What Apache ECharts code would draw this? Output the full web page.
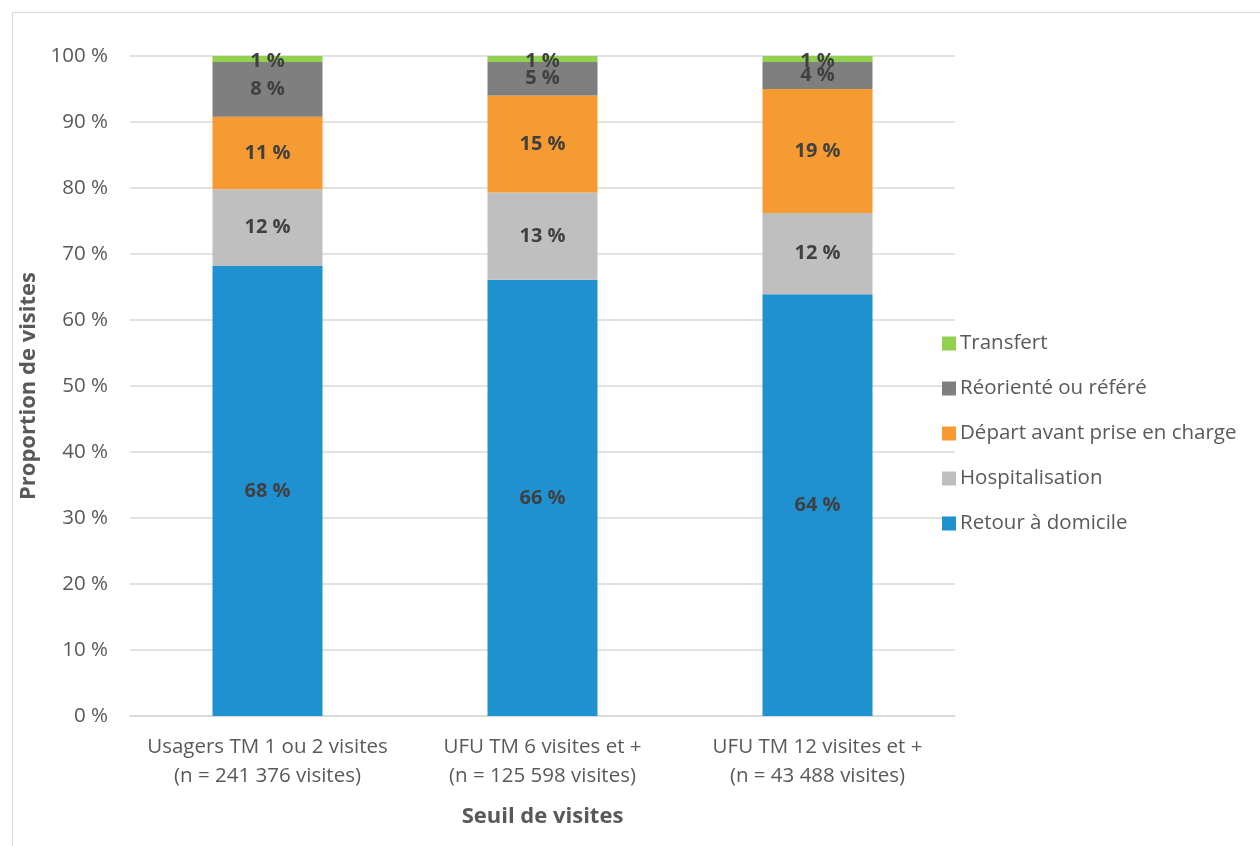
<!DOCTYPE html>
<html><head><meta charset="utf-8">
<script src="https://cdn.jsdelivr.net/npm/echarts@6/dist/echarts.min.js"></script>
<style>html,body{margin:0;padding:0;background:#fff}#c{width:1260px;height:846px}</style>
</head><body><div id="c"></div>
<script>
const categories = ['Usagers TM 1 ou 2 visites\n(n = 241 376 visites)', 'UFU TM 6 visites et +\n(n = 125 598 visites)', 'UFU TM 12 visites et +\n(n = 43 488 visites)'];
const retour = [68.2, 66.1, 63.9];
const hospitalisation = [11.6, 13.2, 12.3];
const depart = [11.0, 14.7, 18.8];
const reoriente = [8.3, 5.1, 4.1];
const transfert = [0.9, 0.9, 0.9];
const yTicks = [0, 10, 20, 30, 40, 50, 60, 70, 80, 90, 100];

const FONT = '"Open Sans", sans-serif';
const names = ['Retour à domicile', 'Hospitalisation', 'Départ avant prise en charge', 'Réorienté ou référé', 'Transfert'];
const colors = ['#1f91d0', '#bfbfbf', '#f59b31', '#7f7f7f', '#92d050'];
const datas = [retour, hospitalisation, depart, reoriente, transfert];

const chart = echarts.init(document.getElementById('c'));
chart.setOption({
  animation: false,
  textStyle: { fontFamily: FONT },
  graphic: [{ type: 'rect', left: 10, top: 10, shape: { width: 1270, height: 860 }, style: { fill: 'none', stroke: '#d9d9d9', lineWidth: 1 }, z: -1 }],
  grid: { left: 130, right: 305, top: 56, bottom: 130 },
  legend: {
    orient: 'vertical', left: 937, top: 328,
    itemWidth: 14, itemHeight: 14, itemGap: 24,
    icon: 'rect',
    data: names.slice().reverse(),
    textStyle: { fontFamily: FONT, fontSize: 20.5, color: '#595959', lineHeight: 21, padding: [0, 0, 0, -1] }
  },
  xAxis: {
    type: 'category', data: categories,
    name: 'Seuil de visites', nameLocation: 'middle', nameGap: 90,
    nameTextStyle: { fontFamily: FONT, fontSize: 22, fontWeight: 'bold', color: '#595959' },
    axisLine: { lineStyle: { color: '#d9d9d9', width: 1.5 } },
    axisTick: { show: false },
    axisLabel: { interval: 0, fontFamily: FONT, fontSize: 20.5, color: '#595959', lineHeight: 29, margin: 17 }
  },
  yAxis: {
    type: 'value', min: 0, max: 100, interval: 10,
    name: 'Proportion de visites', nameLocation: 'middle', nameGap: 81,
    nameTextStyle: { fontFamily: FONT, fontSize: 22, fontWeight: 'bold', color: '#595959' },
    axisLine: { show: false }, axisTick: { show: false },
    splitLine: { lineStyle: { color: '#d9d9d9', width: 1.5 } },
    axisLabel: { fontFamily: FONT, fontSize: 20.5, color: '#595959', margin: 22,
      formatter: v => yTicks.includes(v) ? v + ' %' : '' }
  },
  series: datas.map((d, i) => ({
    name: names[i], type: 'bar', stack: 'total', data: d, barWidth: '40%',
    itemStyle: { color: colors[i] },
    label: { show: true, position: 'inside', offset: i === 4 ? [0, 2] : [0, 0], fontFamily: FONT, fontSize: 20, fontWeight: 'bold', color: '#404040',
      formatter: p => Math.round(p.value) + ' %' }
  }))
});
</script></body></html>
